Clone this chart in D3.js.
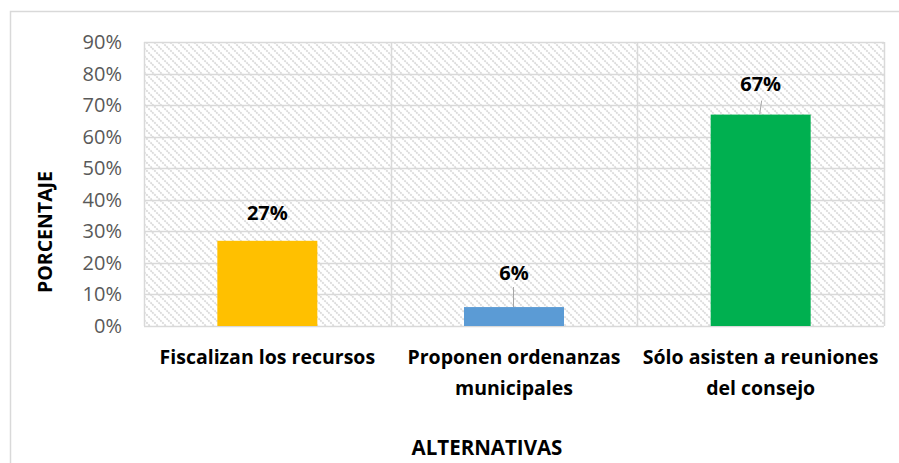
<!DOCTYPE html>
<html>
<head>
<meta charset="utf-8">
<script src="https://cdn.jsdelivr.net/npm/d3@7"></script>
<style>
  body { margin: 0; background: #fff; }
  text { font-family: "Open Sans", "Liberation Sans", sans-serif; }
</style>
</head>
<body>
<div id="chart"></div>
<script>
// data
var categories = [["Fiscalizan los recursos"], ["Proponen ordenanzas", "municipales"], ["Sólo asisten a reuniones", "del consejo"]];
var values = [0.27, 0.06, 0.67];
var colors = ["#ffc000", "#5b9bd5", "#00b050"];
var yTicks = [0, 0.1, 0.2, 0.3, 0.4, 0.5, 0.6, 0.7, 0.8, 0.9];

var W = 899, H = 463;
var svg = d3.select("#chart").append("svg")
    .attr("width", W)
    .attr("height", H);

// outer chart border (only top and left visible in frame)
svg.append("rect")
    .attr("x", 10.5).attr("y", 11.5)
    .attr("width", 900).attr("height", 470)
    .attr("fill", "none")
    .attr("stroke", "#d9d9d9")
    .attr("stroke-width", 1.5);

var defs = svg.append("defs");
var pat = defs.append("pattern")
    .attr("id", "hatch")
    .attr("patternUnits", "userSpaceOnUse")
    .attr("width", 8).attr("height", 8);
pat.append("path")
    .attr("d", "M-2,-2 L10,10 M-2,6 L2,10 M6,-2 L10,2")
    .attr("stroke", "#dadada")
    .attr("stroke-width", 1.8)
    .attr("stroke-dasharray", "2,1");

var plotL = 144, plotR = 884, plotT = 42, plotB = 326;

var x = d3.scaleBand()
    .domain(d3.range(values.length))
    .range([plotL, plotR])
    .paddingInner(0)
    .paddingOuter(0);

var y = d3.scaleLinear()
    .domain([0, 0.9])
    .range([plotB, plotT]);

// plot background hatch
svg.append("rect")
    .attr("x", plotL).attr("y", plotT)
    .attr("width", plotR - plotL).attr("height", plotB - plotT)
    .attr("fill", "url(#hatch)");

// horizontal gridlines
svg.append("g").selectAll("line")
    .data(yTicks)
    .enter().append("line")
    .attr("x1", plotL).attr("x2", plotR)
    .attr("y1", function(d) { return Math.round(y(d)) + 0.5; })
    .attr("y2", function(d) { return Math.round(y(d)) + 0.5; })
    .attr("stroke", "#d9d9d9")
    .attr("stroke-width", 1.5);

// vertical gridlines at category boundaries
var bounds = d3.range(values.length + 1).map(function(i) { return plotL + i * x.step(); });
svg.append("g").selectAll("line")
    .data(bounds)
    .enter().append("line")
    .attr("x1", function(d) { return Math.round(d) + 0.5; })
    .attr("x2", function(d) { return Math.round(d) + 0.5; })
    .attr("y1", plotT).attr("y2", plotB)
    .attr("stroke", "#d9d9d9")
    .attr("stroke-width", 1.5);

// bars
var barW = 100;
svg.append("g").selectAll("rect")
    .data(values)
    .enter().append("rect")
    .attr("x", function(d, i) { return x(i) + x.bandwidth() / 2 - barW / 2; })
    .attr("y", function(d) { return y(d); })
    .attr("width", barW)
    .attr("height", function(d) { return plotB - y(d); })
    .attr("fill", function(d, i) { return colors[i]; });

// y tick labels
svg.append("g").selectAll("text")
    .data(yTicks)
    .enter().append("text")
    .attr("x", 122)
    .attr("y", function(d) { return y(d); })
    .attr("dy", "0.35em")
    .attr("text-anchor", "end")
    .attr("fill", "#595959")
    .style("font-size", "20px")
    .text(function(d) { return d3.format(".0%")(d); });

// value labels
var labelOffsets = [28, 34, 31];
svg.append("g").selectAll("text")
    .data(values)
    .enter().append("text")
    .attr("x", function(d, i) { return x(i) + x.bandwidth() / 2; })
    .attr("y", function(d, i) { return y(d) - labelOffsets[i]; })
    .attr("dy", "0.35em")
    .attr("text-anchor", "middle")
    .attr("fill", "#000")
    .style("font-size", "20px")
    .style("font-weight", "bold")
    .text(function(d) { return d3.format(".0%")(d); });

// leader lines for labels close to bars
svg.append("line")
    .attr("x1", x(1) + x.bandwidth() / 2 - 0.5).attr("x2", x(1) + x.bandwidth() / 2 - 0.5)
    .attr("y1", y(values[1]) - 20).attr("y2", y(values[1]))
    .attr("stroke", "#a6a6a6").attr("stroke-width", 1);
svg.append("line")
    .attr("x1", x(2) + x.bandwidth() / 2 + 1).attr("x2", x(2) + x.bandwidth() / 2 - 1)
    .attr("y1", y(values[2]) - 14).attr("y2", y(values[2]))
    .attr("stroke", "#a6a6a6").attr("stroke-width", 1);

// category labels
var cat = svg.append("g").selectAll("text")
    .data(categories)
    .enter().append("text")
    .attr("x", function(d, i) { return x(i) + x.bandwidth() / 2; })
    .attr("y", 357)
    .attr("text-anchor", "middle")
    .attr("fill", "#000")
    .style("font-size", "19.5px")
    .style("font-weight", "bold");
cat.selectAll("tspan")
    .data(function(d) { return d; })
    .enter().append("tspan")
    .attr("x", function() { return d3.select(this.parentNode).attr("x"); })
    .attr("dy", function(d, i) { return i === 0 ? "0.35em" : "31px"; })
    .text(function(d) { return d; });

// axis titles
svg.append("text")
    .attr("transform", "translate(45,232) rotate(-90)")
    .attr("dy", "0.35em")
    .attr("text-anchor", "middle")
    .style("font-size", "19.5px")
    .style("font-weight", "bold")
    .text("PORCENTAJE");

svg.append("text")
    .attr("x", 487).attr("y", 448)
    .attr("dy", "0.35em")
    .attr("text-anchor", "middle")
    .style("font-size", "20.5px")
    .style("font-weight", "bold")
    .text("ALTERNATIVAS");
</script>
</body>
</html>
